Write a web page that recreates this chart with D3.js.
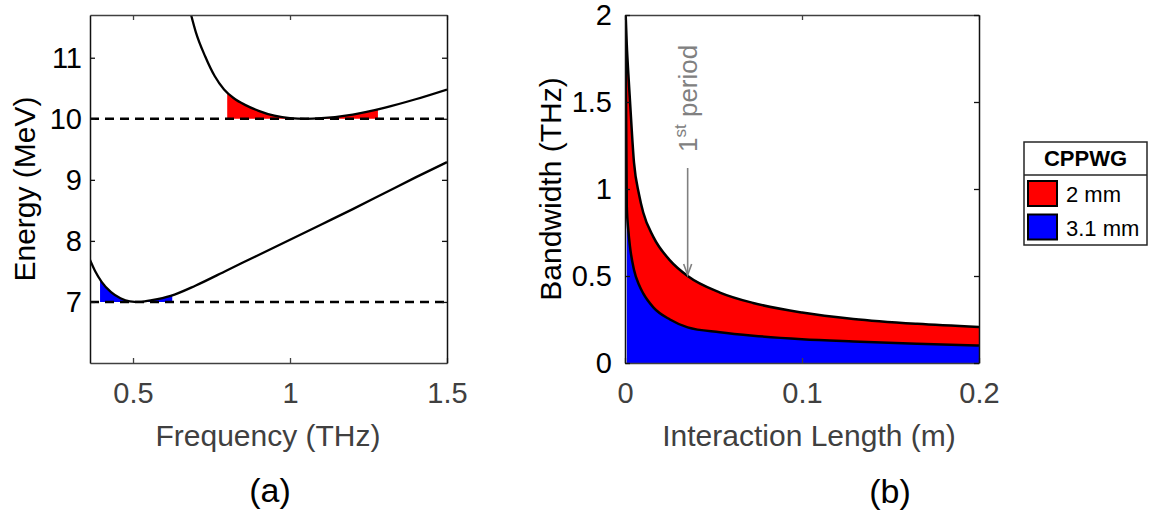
<!DOCTYPE html>
<html>
<head>
<meta charset="utf-8">
<script src="https://cdn.jsdelivr.net/npm/d3@7"></script>
<style>
  body { margin: 0; background: #fff; }
  svg { font-family: "Liberation Sans", Arial, sans-serif; }
</style>
</head>
<body>
<svg id="canvas"></svg>
<script>
// ---- panel (a): energy vs frequency ----
let freq = [0.363, 0.38, 0.40, 0.43, 0.46, 0.49, 0.52, 0.56, 0.62, 0.70, 0.80, 0.90, 1.00, 1.10, 1.20, 1.30, 1.40, 1.50];
let energyLow = [7.69, 7.50, 7.33, 7.16, 7.06, 7.01, 7.00, 7.03, 7.10, 7.27, 7.52, 7.77, 8.02, 8.27, 8.52, 8.78, 9.04, 9.29];

let freqHigh = [0.685, 0.70, 0.73, 0.76, 0.79, 0.82, 0.86, 0.90, 0.95, 1.00, 1.05, 1.10, 1.20, 1.30, 1.40, 1.50];
let energyHigh = [11.70, 11.42, 11.02, 10.70, 10.48, 10.34, 10.22, 10.13, 10.05, 10.01, 10.00, 10.01, 10.07, 10.18, 10.32, 10.48];

let resonance = [7, 10];            // dashed lines
let blueBand = [0.395, 0.625];      // shaded band on lower curve
let redBand = [0.80, 1.28];         // shaded band on upper curve

let ticksA_x = [0.5, 1, 1.5];
let ticksA_y = [7, 8, 9, 10, 11];

// ---- panel (b): bandwidth vs interaction length ----
let lengths = [0.0002, 0.001, 0.0019, 0.0028, 0.0051, 0.0079, 0.0103, 0.016, 0.0254, 0.0354, 0.0536, 0.0724, 0.1, 0.129, 0.165, 0.2];
let bw2mm = [2.05, 1.83, 1.66, 1.51, 1.15, 0.97, 0.865, 0.725, 0.59, 0.50, 0.405, 0.345, 0.29, 0.253, 0.225, 0.207];
let bw31mm = [2.05, 0.90, 0.76, 0.67, 0.535, 0.45, 0.40, 0.32, 0.25, 0.205, 0.177, 0.157, 0.137, 0.124, 0.111, 0.10];

let ticksB_x = [0, 0.1, 0.2];
let ticksB_y = [0, 0.5, 1, 1.5, 2];

let legendTitle = "CPPWG";
let legendNames = ["2 mm", "3.1 mm"];
let legendColors = ["#ff0000", "#0000ff"];

let firstPeriod = 0.0354; // arrow position

let width = 1150, height = 512;
let canvas = d3.select("#canvas").attr("width", width).attr("height", height);

let axisGray = "#404040";

let drawFrame = (xScale, yScale, xt, yt, id, labPad) => {
  let [x0, x1] = xScale.range();
  let [y0, y1] = yScale.range();
  let g = canvas.append("g").attr("id", id);
  let xb = g.append("g").attr("transform", "translate(0," + y0 + ")")
    .call(d3.axisBottom(xScale).tickValues(xt).tickSizeInner(-5).tickSizeOuter(0).tickPadding(19).tickFormat(d3.format("")));
  let xtop = g.append("g").attr("transform", "translate(0," + y1 + ")")
    .call(d3.axisTop(xScale).tickValues(xt).tickSizeInner(-5).tickSizeOuter(0).tickFormat(""));
  let yl = g.append("g").attr("transform", "translate(" + x0 + ",0)")
    .call(d3.axisLeft(yScale).tickValues(yt).tickSizeInner(-5).tickSizeOuter(0).tickPadding(labPad).tickFormat(d3.format("")));
  let yr = g.append("g").attr("transform", "translate(" + x1 + ",0)")
    .call(d3.axisRight(yScale).tickValues(yt).tickSizeInner(-5).tickSizeOuter(0).tickFormat(""));
  [xb, xtop].forEach((a) => {
    a.select(".domain").attr("stroke", axisGray).attr("stroke-width", 1.5);
    a.selectAll(".tick line").attr("stroke", axisGray).attr("stroke-width", 1.3);
  });
  [yl, yr].forEach((a) => {
    a.select(".domain").attr("stroke", "#111").attr("stroke-width", 1.5);
    a.selectAll(".tick line").attr("stroke", "#111").attr("stroke-width", 1.3);
  });
  xb.selectAll("text").attr("font-size", 29).attr("fill", axisGray).attr("font-family", null);
  yl.selectAll("text").attr("font-size", 29).attr("fill", "#000").attr("font-family", null);
  return g;
};

// ===== panel (a) =====
let xA = d3.scaleLinear().domain([0.363, 1.5]).range([90, 447]);
let yA = d3.scaleLinear().domain([6, 11.7]).range([363, 15]);

canvas.append("clipPath").attr("id", "clipA")
  .append("rect").attr("x", 90).attr("y", 15).attr("width", 357).attr("height", 348);

let lowPts = freq.map((f, i) => [f, energyLow[i]]);
let highPts = freqHigh.map((f, i) => [f, energyHigh[i]]);

// points of a curve inside [a,b], with interpolated end points
let bandPts = (pts, band) => {
  let xs = pts.map((p) => p[0]), ys = pts.map((p) => p[1]);
  let interp = d3.scaleLinear().domain(xs).range(ys);
  let inner = pts.filter((p) => p[0] > band[0] && p[0] < band[1]);
  return [[band[0], interp(band[0])]].concat(inner, [[band[1], interp(band[1])]]);
};

let plotA = canvas.append("g").attr("clip-path", "url(#clipA)");

let areaA = (base) => d3.area().x((d) => xA(d[0])).y0(yA(base)).y1((d) => yA(d[1])).curve(d3.curveMonotoneX);

plotA.append("path").datum(bandPts(lowPts, blueBand)).attr("d", areaA(resonance[0])).attr("fill", "#0000ff");
plotA.append("path").datum(bandPts(highPts, redBand)).attr("d", areaA(resonance[1])).attr("fill", "#ff0000");

plotA.selectAll(".dash").data(resonance).enter().append("line")
  .attr("x1", xA.range()[0]).attr("x2", xA.range()[1])
  .attr("y1", (d) => yA(d)).attr("y2", (d) => yA(d))
  .attr("stroke", "#000").attr("stroke-width", 2.4).attr("stroke-dasharray", "9,6");

let lineA = d3.line().x((d) => xA(d[0])).y((d) => yA(d[1])).curve(d3.curveMonotoneX);
plotA.selectAll(".curve").data([lowPts, highPts]).enter().append("path")
  .attr("d", lineA).attr("fill", "none").attr("stroke", "#000").attr("stroke-width", 2.3);

drawFrame(xA, yA, ticksA_x, ticksA_y, "axesA", 8);

canvas.append("text").attr("transform", "translate(35,189) rotate(-90)")
  .attr("text-anchor", "middle").attr("font-size", 30).attr("fill", "#000").text("Energy (MeV)");
canvas.append("text").attr("x", 268).attr("y", 446)
  .attr("text-anchor", "middle").attr("font-size", 30).attr("fill", axisGray).text("Frequency (THz)");
canvas.append("text").attr("x", 270).attr("y", 502)
  .attr("text-anchor", "middle").attr("font-size", 34).attr("fill", "#000").text("(a)");

// ===== panel (b) =====
let xB = d3.scaleLinear().domain([0, 0.2]).range([625, 979]);
let yB = d3.scaleLinear().domain([0, 2]).range([363, 15]);

canvas.append("clipPath").attr("id", "clipB")
  .append("rect").attr("x", 625).attr("y", 15).attr("width", 354).attr("height", 348);

let plotB = canvas.append("g").attr("clip-path", "url(#clipB)");
let idx = d3.range(1, lengths.length);

plotB.append("path").datum(idx)
  .attr("d", d3.area().x((i) => xB(lengths[i])).y0((i) => yB(bw31mm[i])).y1((i) => yB(bw2mm[i])).curve(d3.curveMonotoneX))
  .attr("fill", legendColors[0]);
plotB.append("path").datum(idx)
  .attr("d", d3.area().x((i) => xB(lengths[i])).y0(yB(0)).y1((i) => yB(bw31mm[i])).curve(d3.curveMonotoneX))
  .attr("fill", legendColors[1]);

plotB.selectAll(".curve").data([bw2mm, bw31mm]).enter().append("path")
  .attr("d", (s) => d3.line().x((d, i) => xB(lengths[i])).y((d) => yB(d)).curve(d3.curveMonotoneX)(s))
  .attr("fill", "none").attr("stroke", "#000").attr("stroke-width", 2.5);

drawFrame(xB, yB, ticksB_x, ticksB_y, "axesB", 13);

canvas.append("text").attr("transform", "translate(561,189) rotate(-90)")
  .attr("text-anchor", "middle").attr("font-size", 30).attr("fill", "#000").text("Bandwidth (THz)");
canvas.append("text").attr("x", 809).attr("y", 446)
  .attr("text-anchor", "middle").attr("font-size", 30).attr("fill", axisGray).text("Interaction Length (m)");
canvas.append("text").attr("x", 890).attr("y", 503)
  .attr("text-anchor", "middle").attr("font-size", 34).attr("fill", "#000").text("(b)");

// 1st period arrow
let arrowX = xB(firstPeriod);
let arrowTip = yB(d3.scaleLinear().domain(lengths).range(bw2mm)(firstPeriod));
let gray = "#808080";
canvas.append("line").attr("x1", arrowX).attr("x2", arrowX).attr("y1", 168).attr("y2", arrowTip - 1)
  .attr("stroke", gray).attr("stroke-width", 1.6);
canvas.append("path")
  .attr("d", "M" + (arrowX - 4) + "," + (arrowTip - 12) + "L" + arrowX + "," + (arrowTip - 1) + "L" + (arrowX + 4) + "," + (arrowTip - 12))
  .attr("fill", "none").attr("stroke", gray).attr("stroke-width", 1.6);
let ann = canvas.append("text").attr("transform", "translate(" + (arrowX + 9) + ",152) rotate(-90)")
  .attr("font-size", 26).attr("fill", gray);
ann.append("tspan").text("1");
ann.append("tspan").attr("font-size", 17).attr("dy", -11).text("st");
ann.append("tspan").attr("dy", 11).text(" period");

// legend
let lg = canvas.append("g").attr("id", "legend");
lg.append("rect").attr("x", 1024).attr("y", 142).attr("width", 123).attr("height", 103)
  .attr("fill", "#fff").attr("stroke", "#262626").attr("stroke-width", 1.5);
lg.append("line").attr("x1", 1024).attr("x2", 1147).attr("y1", 175).attr("y2", 175)
  .attr("stroke", "#262626").attr("stroke-width", 1.5);
lg.append("text").attr("x", 1085.5).attr("y", 166).attr("text-anchor", "middle")
  .attr("font-size", 22).attr("font-weight", "bold").attr("fill", "#000").text(legendTitle);
let rows = lg.selectAll(".row").data(legendNames).enter().append("g")
  .attr("transform", (d, i) => "translate(0," + (i * 33.5) + ")");
rows.append("rect").attr("x", 1028).attr("y", 181).attr("width", 29).attr("height", 25)
  .attr("fill", (d, i) => legendColors[i]).attr("stroke", "#000").attr("stroke-width", 2);
rows.append("text").attr("x", 1066).attr("y", 202).attr("font-size", 22).attr("fill", "#000").text((d) => d);
</script>
</body>
</html>
